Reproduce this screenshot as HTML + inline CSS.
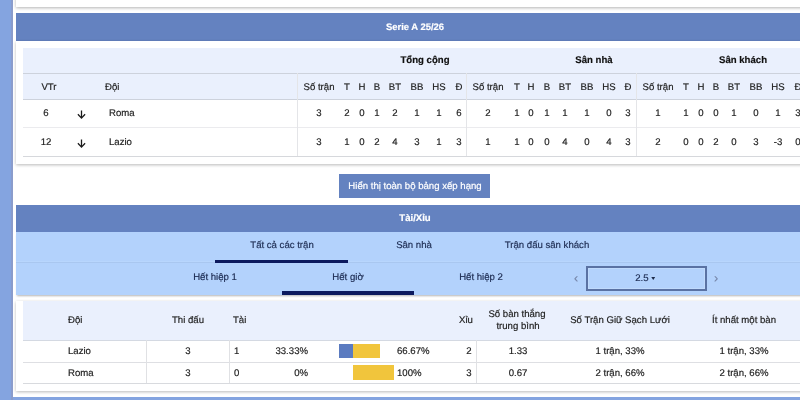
<!DOCTYPE html>
<html><head><meta charset="utf-8"><style>
html,body{margin:0;padding:0;}
html{overflow:hidden;width:800px;height:400px;}
body{width:800px;height:400px;overflow:hidden;position:relative;background:#fff;font-family:"Liberation Sans",sans-serif;font-size:9.6px;color:#222;text-rendering:geometricPrecision;}
.b{position:absolute;}
.t{will-change:transform;-webkit-text-stroke:0.18px currentColor;position:absolute;white-space:nowrap;line-height:12px;height:12px;margin-top:-6px;}
.c{transform:translateX(-50%);}
.r{transform:translateX(-100%);}
.b.bw,.bw{font-weight:bold;color:#fff;}
.b{}
.t.bd{font-weight:bold;color:#111;}
.w{color:#fff;}
.tab{color:#1d2c52;}
.arr{color:#7686a8;font-size:12.5px;}
#wrap{position:absolute;left:0;top:0;width:800px;height:400px;overflow:hidden;}
</style></head><body><div id="wrap">
<div class="b" style="left:0px;top:0px;width:12.6px;height:400px;background:#84a4e0"></div>
<div class="b" style="left:12.6px;top:397px;width:787.4px;height:3px;background:#84a4e0"></div>
<div class="b" style="left:11.3px;top:0px;width:1.3px;height:400px;background:#8a9ccc"></div>
<div class="b" style="left:16px;top:-10px;width:800px;height:16.5px;background:#fff;box-shadow:0 1px 3px rgba(0,0,0,.3)"></div>
<div class="b" style="left:16px;top:13px;width:800px;height:28px;background:#6482c0"></div>
<div class="t c bw" style="left:414.7px;top:27.6px;font-size:9.45px">Serie A 25/26</div>
<div class="b" style="left:16px;top:41px;width:800px;height:123px;background:#fff;box-shadow:0 1px 3px rgba(0,0,0,.28)"></div>
<div class="b" style="left:23px;top:48px;width:800px;height:51px;background:#eaf0fd"></div>
<div class="b" style="left:23px;top:73px;width:800px;height:1px;background:#cdd2dc"></div>
<div class="b" style="left:23px;top:98.7px;width:800px;height:1px;background:#cdd2dc"></div>
<div class="b" style="left:23px;top:127.2px;width:800px;height:1px;background:#ebebee"></div>
<div class="b" style="left:23px;top:156px;width:800px;height:1px;background:#d6d8dc"></div>
<div class="b" style="left:297.2px;top:73px;width:1px;height:83px;background:#e4e5e8"></div>
<div class="b" style="left:466.4px;top:73px;width:1px;height:83px;background:#e4e5e8"></div>
<div class="b" style="left:636px;top:73px;width:1px;height:83px;background:#e4e5e8"></div>
<div class="t c bd" style="left:425px;top:60.5px;">Tổng cộng</div>
<div class="t c bd" style="left:594px;top:60.5px;">Sân nhà</div>
<div class="t c bd" style="left:742.7px;top:60.5px;">Sân khách</div>
<div class="t c " style="left:49.4px;top:87.7px;">VTr</div>
<div class="t l " style="left:105px;top:87.7px;">Đội</div>
<div class="t c " style="left:318.6px;top:87.7px;">Số trận</div>
<div class="t c " style="left:347.2px;top:87.7px;">T</div>
<div class="t c " style="left:361.8px;top:87.7px;">H</div>
<div class="t c " style="left:377.3px;top:87.7px;">B</div>
<div class="t c " style="left:395.1px;top:87.7px;">BT</div>
<div class="t c " style="left:417.1px;top:87.7px;">BB</div>
<div class="t c " style="left:439.4px;top:87.7px;">HS</div>
<div class="t c " style="left:458.7px;top:87.7px;">Đ</div>
<div class="t c " style="left:488.1px;top:87.7px;">Số trận</div>
<div class="t c " style="left:516.7px;top:87.7px;">T</div>
<div class="t c " style="left:531.3px;top:87.7px;">H</div>
<div class="t c " style="left:546.8px;top:87.7px;">B</div>
<div class="t c " style="left:564.6px;top:87.7px;">BT</div>
<div class="t c " style="left:586.6px;top:87.7px;">BB</div>
<div class="t c " style="left:608.9px;top:87.7px;">HS</div>
<div class="t c " style="left:628.2px;top:87.7px;">Đ</div>
<div class="t c " style="left:657.6px;top:87.7px;">Số trận</div>
<div class="t c " style="left:686.2px;top:87.7px;">T</div>
<div class="t c " style="left:700.8px;top:87.7px;">H</div>
<div class="t c " style="left:716.3px;top:87.7px;">B</div>
<div class="t c " style="left:734.1px;top:87.7px;">BT</div>
<div class="t c " style="left:756.1px;top:87.7px;">BB</div>
<div class="t c " style="left:778.4px;top:87.7px;">HS</div>
<div class="t c " style="left:797.7px;top:87.7px;">Đ</div>
<div class="t c " style="left:46.3px;top:113.75px;">6</div>
<svg class="b" style="left:76px;top:110px" width="11" height="10" viewBox="0 0 11 10"><path d="M5.5 0.5V8.3M1.9 4.3L5.5 8.1L9.1 4.3" fill="none" stroke="#1a1a1a" stroke-width="1.3"/></svg>
<div class="t l " style="left:108.5px;top:113.75px;">Roma</div>
<div class="t c " style="left:318.6px;top:113.75px;">3</div>
<div class="t c " style="left:347.2px;top:113.75px;">2</div>
<div class="t c " style="left:361.8px;top:113.75px;">0</div>
<div class="t c " style="left:377.3px;top:113.75px;">1</div>
<div class="t c " style="left:395.1px;top:113.75px;">2</div>
<div class="t c " style="left:417.1px;top:113.75px;">1</div>
<div class="t c " style="left:439.4px;top:113.75px;">1</div>
<div class="t c " style="left:458.7px;top:113.75px;">6</div>
<div class="t c " style="left:488.1px;top:113.75px;">2</div>
<div class="t c " style="left:516.7px;top:113.75px;">1</div>
<div class="t c " style="left:531.3px;top:113.75px;">0</div>
<div class="t c " style="left:546.8px;top:113.75px;">1</div>
<div class="t c " style="left:564.6px;top:113.75px;">1</div>
<div class="t c " style="left:586.6px;top:113.75px;">1</div>
<div class="t c " style="left:608.9px;top:113.75px;">0</div>
<div class="t c " style="left:628.2px;top:113.75px;">3</div>
<div class="t c " style="left:657.6px;top:113.75px;">1</div>
<div class="t c " style="left:686.2px;top:113.75px;">1</div>
<div class="t c " style="left:700.8px;top:113.75px;">0</div>
<div class="t c " style="left:716.3px;top:113.75px;">0</div>
<div class="t c " style="left:734.1px;top:113.75px;">1</div>
<div class="t c " style="left:756.1px;top:113.75px;">0</div>
<div class="t c " style="left:778.4px;top:113.75px;">1</div>
<div class="t c " style="left:797.7px;top:113.75px;">3</div>
<div class="t c " style="left:46.3px;top:142.9px;">12</div>
<svg class="b" style="left:76px;top:139px" width="11" height="10" viewBox="0 0 11 10"><path d="M5.5 0.5V8.3M1.9 4.3L5.5 8.1L9.1 4.3" fill="none" stroke="#1a1a1a" stroke-width="1.3"/></svg>
<div class="t l " style="left:108.5px;top:142.9px;">Lazio</div>
<div class="t c " style="left:318.6px;top:142.9px;">3</div>
<div class="t c " style="left:347.2px;top:142.9px;">1</div>
<div class="t c " style="left:361.8px;top:142.9px;">0</div>
<div class="t c " style="left:377.3px;top:142.9px;">2</div>
<div class="t c " style="left:395.1px;top:142.9px;">4</div>
<div class="t c " style="left:417.1px;top:142.9px;">3</div>
<div class="t c " style="left:439.4px;top:142.9px;">1</div>
<div class="t c " style="left:458.7px;top:142.9px;">3</div>
<div class="t c " style="left:488.1px;top:142.9px;">1</div>
<div class="t c " style="left:516.7px;top:142.9px;">1</div>
<div class="t c " style="left:531.3px;top:142.9px;">0</div>
<div class="t c " style="left:546.8px;top:142.9px;">0</div>
<div class="t c " style="left:564.6px;top:142.9px;">4</div>
<div class="t c " style="left:586.6px;top:142.9px;">0</div>
<div class="t c " style="left:608.9px;top:142.9px;">4</div>
<div class="t c " style="left:628.2px;top:142.9px;">3</div>
<div class="t c " style="left:657.6px;top:142.9px;">2</div>
<div class="t c " style="left:686.2px;top:142.9px;">0</div>
<div class="t c " style="left:700.8px;top:142.9px;">0</div>
<div class="t c " style="left:716.3px;top:142.9px;">2</div>
<div class="t c " style="left:734.1px;top:142.9px;">0</div>
<div class="t c " style="left:756.1px;top:142.9px;">3</div>
<div class="t c " style="left:778.4px;top:142.9px;">-3</div>
<div class="t c " style="left:797.7px;top:142.9px;">0</div>
<div class="b" style="left:339px;top:174px;width:150.5px;height:24px;background:#6482c0"></div>
<div class="t c w" style="left:414.5px;top:186.8px;">Hiển thị toàn bộ bảng xếp hạng</div>
<div class="b" style="left:16px;top:205px;width:800px;height:27px;background:#6482c0"></div>
<div class="t c bw" style="left:414.8px;top:218.5px;">Tài/Xỉu</div>
<div class="b" style="left:16px;top:232px;width:800px;height:62.6px;background:#b3d2fc;box-shadow:0 2px 2px -1px rgba(0,0,0,.3)"></div>
<div class="b" style="left:16px;top:260.6px;width:800px;height:1px;background:#b8d6fd"></div>
<div class="b" style="left:16px;top:261.6px;width:800px;height:1px;background:#a9c7f0"></div>
<div class="t c tab" style="left:281.6px;top:246px;">Tất cả các trận</div>
<div class="b" style="left:215px;top:259.5px;width:133px;height:3px;background:#0c1a5e"></div>
<div class="t c tab" style="left:414.4px;top:246px;">Sân nhà</div>
<div class="t c tab" style="left:547px;top:246px;">Trận đấu sân khách</div>
<div class="t c tab" style="left:215px;top:277.5px;">Hết hiệp 1</div>
<div class="t c tab" style="left:347.8px;top:277.5px;">Hết giờ</div>
<div class="b" style="left:282px;top:291px;width:132px;height:3.5px;background:#0c1a5e"></div>
<div class="t c tab" style="left:480.7px;top:277.5px;">Hết hiệp 2</div>
<div class="t c arr" style="left:575.6px;top:278.3px;">‹</div>
<div class="t c arr" style="left:715.8px;top:278.3px;">›</div>
<div class="b" style="left:586px;top:266.2px;width:121.3px;height:24.4px;border:2px solid #5a72a3;box-sizing:border-box;box-shadow:inset 0 0 0 1px rgba(255,255,255,.18)"></div>
<div class="t c tab" style="left:645.3px;top:278.8px;">2.5 <span style="display:inline-block;width:0;height:0;border-left:2.8px solid transparent;border-right:2.8px solid transparent;border-top:3.2px solid #1c2a4a;vertical-align:1px;margin-left:-0.5px"></span></div>
<div class="b" style="left:16px;top:301px;width:800px;height:89.5px;background:#fff;box-shadow:0 1px 3px rgba(0,0,0,.28)"></div>
<div class="b" style="left:23px;top:301px;width:800px;height:39px;background:#eaf0fd"></div>
<div class="b" style="left:23px;top:339.5px;width:800px;height:1px;background:#d4d9e2"></div>
<div class="b" style="left:23px;top:361.7px;width:800px;height:1px;background:#dedfe3"></div>
<div class="b" style="left:23px;top:382.7px;width:800px;height:1px;background:#d8dade"></div>
<div class="b" style="left:146px;top:340px;width:1px;height:43px;background:#e0e1e4"></div>
<div class="b" style="left:229px;top:340px;width:1px;height:43px;background:#e0e1e4"></div>
<div class="b" style="left:475.5px;top:340px;width:1px;height:43px;background:#e0e1e4"></div>
<div class="t l " style="left:67.8px;top:321.1px;">Đội</div>
<div class="t c " style="left:187.9px;top:321.1px;">Thi đấu</div>
<div class="t l " style="left:233px;top:321.1px;">Tài</div>
<div class="t c " style="left:465.6px;top:321.1px;">Xỉu</div>
<div class="t c " style="left:517px;top:314.8px;">Số bàn thắng</div>
<div class="t c " style="left:517.5px;top:327.3px;">trung bình</div>
<div class="t c " style="left:620px;top:321.1px;">Số Trận Giữ Sạch Lưới</div>
<div class="t c " style="left:743.6px;top:321.1px;">Ít nhất một bàn</div>
<div class="t l " style="left:67.8px;top:352px;">Lazio</div>
<div class="t c " style="left:188px;top:352px;">3</div>
<div class="t l " style="left:233.5px;top:352px;">1</div>
<div class="t r " style="left:307.7px;top:352px;">33.33%</div>
<div class="b" style="left:338.75px;top:343.75px;width:13.75px;height:14.25px;background:#5b7bc0"></div>
<div class="b" style="left:352.5px;top:343.8px;width:27.5px;height:14.2px;background:#f1c53c"></div>
<div class="t l " style="left:397.2px;top:352px;">66.67%</div>
<div class="t c " style="left:469.3px;top:352px;">2</div>
<div class="t c " style="left:517.9px;top:352px;">1.33</div>
<div class="t c " style="left:620.2px;top:352px;">1 trận, 33%</div>
<div class="t c " style="left:743.5px;top:352px;">1 trận, 33%</div>
<div class="t l " style="left:67.8px;top:373.6px;">Roma</div>
<div class="t c " style="left:188px;top:373.6px;">3</div>
<div class="t l " style="left:233.5px;top:373.6px;">0</div>
<div class="t r " style="left:307.7px;top:373.6px;">0%</div>
<div class="b" style="left:353px;top:365.40000000000003px;width:40.75px;height:14.2px;background:#f1c53c"></div>
<div class="t l " style="left:397.2px;top:373.6px;">100%</div>
<div class="t c " style="left:469.3px;top:373.6px;">3</div>
<div class="t c " style="left:517.9px;top:373.6px;">0.67</div>
<div class="t c " style="left:620.2px;top:373.6px;">2 trận, 66%</div>
<div class="t c " style="left:743.5px;top:373.6px;">2 trận, 66%</div>
</div></body></html>
